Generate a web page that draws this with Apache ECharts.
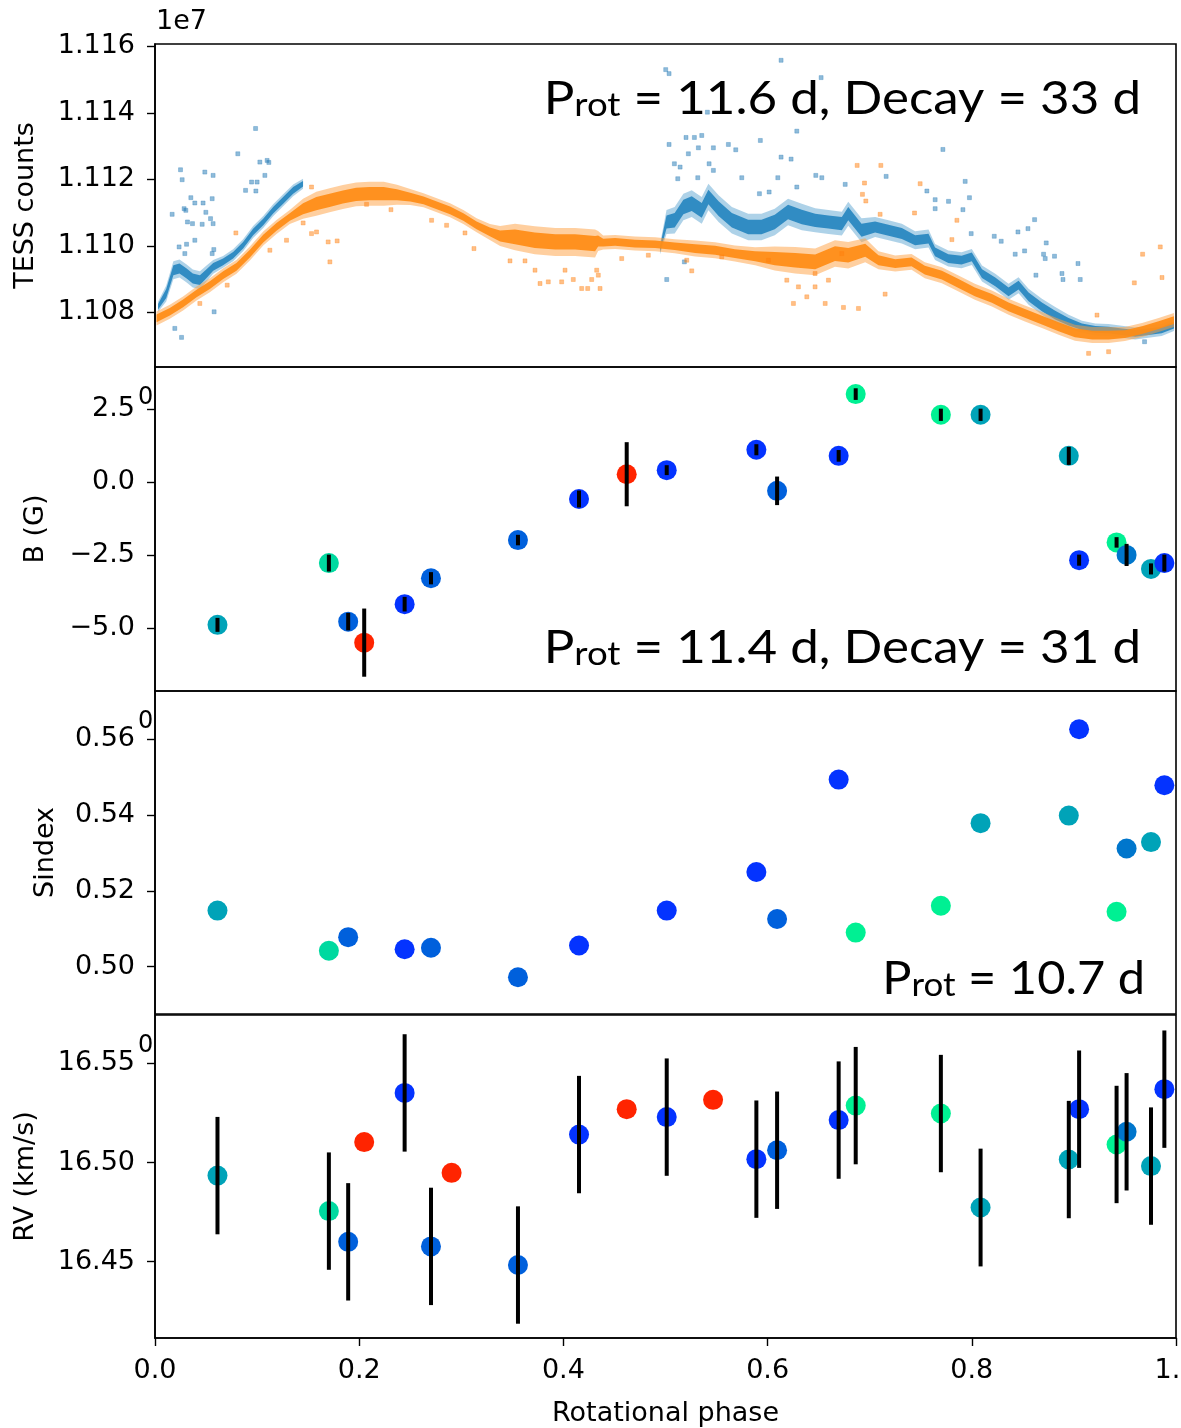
<!DOCTYPE html>
<html><head><meta charset="utf-8">
<script src="https://cdn.jsdelivr.net/npm/echarts@6/dist/echarts.min.js"></script>
<style>html,body{margin:0;padding:0;background:#fff}#c{width:1181px;height:1428px}</style>
</head><body><div id="c"></div><script>
// ---------------- data ----------------
const phaseTicks = [0.0, 0.2, 0.4, 0.6, 0.8, 1.0];
const tessTicks = [1.108, 1.110, 1.112, 1.114, 1.116];
const bTicks = [-5.0, -2.5, 0.0, 2.5];
const sTicks = [0.50, 0.52, 0.54, 0.56];
const rvTicks = [16.45, 16.50, 16.55];

// spectropolarimetric observations (phase, colour class)
const obsPhase = [0.0612, 0.1703, 0.1892, 0.2049, 0.2445, 0.2703, 0.2905, 0.3555, 0.4153, 0.4620, 0.5012, 0.5466,
                  0.5890, 0.6093, 0.6696, 0.6863, 0.7697, 0.8086, 0.8950, 0.9051, 0.9418, 0.9516, 0.9755, 0.9886];
const obsClass = ['teal','mint','mid','red','blue','mid','red','mid','blue','red','blue','red',
                  'blue','mid','blue','green','green','teal','teal','blue','green','mid2','teal','blue'];
const bField = [-4.90, -2.78, -4.79, -5.51, -4.19, -3.30, null, -1.99, -0.58, 0.27, 0.41, null,
                1.11, -0.30, 0.90, 3.02, 2.31, 2.31, 0.90, -2.68, -2.07, -2.50, -2.98, -2.78];
const bErr = [0.24, 0.29, 0.30, 1.17, 0.25, 0.21, null, 0.18, 0.29, 1.10, 0.17, null,
              0.19, 0.49, 0.20, 0.20, 0.21, 0.21, 0.31, 0.19, 0.18, 0.38, 0.19, 0.29];
const sIndex = [0.5148, 0.5042, 0.5078, null, 0.5046, 0.5050, null, 0.4972, 0.5056, null, 0.5148, null,
                0.5250, 0.5126, 0.5494, 0.5090, 0.5161, 0.5379, 0.5399, 0.5627, 0.5145, 0.5312, 0.5329, 0.5479];
const rvVal = [16.4934, 16.4755, 16.4600, 16.5103, 16.5351, 16.4577, 16.4948, 16.4483, 16.5141, 16.5269, 16.5229, 16.5316,
               16.5017, 16.5062, 16.5214, 16.5287, 16.5247, 16.4773, 16.5015, 16.5269, 16.5091, 16.5155, 16.4982, 16.5370];
const rvErr = [0.0296, 0.0296, 0.0296, null, 0.0296, 0.0296, null, 0.0296, 0.0296, null, 0.0296, null,
               0.0296, 0.0296, 0.0296, 0.0296, 0.0296, 0.0297, 0.0296, 0.0296, 0.0296, 0.0296, 0.0296, 0.0296];

// TESS light curve (units of 1e7 counts): dense band centre and half spread
const orangePhase = [0.0015,0.0145,0.0275,0.0407,0.0537,0.0668,0.0798,0.0929,0.1060,0.1190,0.1320,0.1450,0.1580,0.1710,
  0.1840,0.1970,0.2100,0.2240,0.2370,0.2500,0.2630,0.2760,0.2890,0.3020,0.3150,0.3280,0.3380,0.3526,0.3720,0.3920,0.4115,
  0.4310,0.4340,0.4390,0.4506,0.4700,0.4898,0.5090,0.5290,0.5486,0.5680,0.5878,0.6070,0.6270,0.6466,0.6660,0.6790,0.6956,
  0.7086,0.7250,0.7410,0.7540,0.7707,0.7870,0.8030,0.8197,0.8360,0.8520,0.8687,0.8850,0.9010,0.9180,0.9340,0.9500,0.9667,
  0.9830,0.9980];
const orangeCount = [1.10782,1.10802,1.10827,1.10857,1.10882,1.10912,1.10937,1.10977,1.11022,1.11057,1.11087,1.11112,1.11127,1.11137,
  1.11147,1.11155,1.11157,1.11157,1.11154,1.11147,1.11137,1.11122,1.11107,1.11087,1.11062,1.11042,1.11030,1.11027,1.11017,1.11012,1.11012,
  1.11007,1.11015,1.11010,1.11012,1.11007,1.11005,1.10999,1.10992,1.10987,1.10977,1.10969,1.10962,1.10957,1.10952,1.10977,1.10972,1.10987,
  1.10957,1.10947,1.10952,1.10927,1.10912,1.10887,1.10862,1.10842,1.10817,1.10797,1.10777,1.10757,1.10739,1.10732,1.10732,1.10735,1.10747,
  1.10762,1.10777];
const orangeSpread = [0.00021,0.00021,0.00021,0.00021,0.00021,0.00021,0.00021,0.00021,0.00021,0.00021,0.00021,0.00030,0.00036,0.00036,
  0.00036,0.00036,0.00036,0.00036,0.00030,0.00024,0.00021,0.00021,0.00021,0.00021,0.00021,0.00024,0.00030,0.00040,0.00042,0.00042,0.00042,
  0.00042,0.00030,0.00021,0.00021,0.00021,0.00021,0.00021,0.00024,0.00024,0.00024,0.00027,0.00036,0.00040,0.00040,0.00040,0.00040,0.00036,
  0.00027,0.00024,0.00024,0.00024,0.00024,0.00024,0.00024,0.00024,0.00024,0.00024,0.00024,0.00024,0.00024,0.00024,0.00024,0.00021,0.00021,
  0.00021,0.00021];

const blue1Phase = [0.0030,0.0110,0.0180,0.0240,0.0310,0.0370,0.0440,0.0505,0.0570,0.0667,0.0765,0.0863,0.0961,0.1060,0.1157,0.1255,0.1353,0.1450];
const blue1Count = [1.10817,1.10857,1.10927,1.10932,1.10917,1.10902,1.10897,1.10917,1.10937,1.10952,1.10972,1.11002,1.11042,1.11072,1.11107,1.11137,1.11167,1.11187];
const blue1Spread = [0.00015,0.00024,0.00027,0.00027,0.00027,0.00027,0.00027,0.00024,0.00021,0.00018,0.00018,0.00018,0.00018,0.00018,0.00018,0.00018,0.00018,0.00015];

const blue2Phase = [0.4946,0.5010,0.5090,0.5175,0.5257,0.5355,0.5420,0.5520,0.5650,0.5810,0.5940,0.6070,0.6200,0.6335,0.6466,0.6596,0.6727,
  0.6790,0.6920,0.7053,0.7184,0.7315,0.7445,0.7576,0.7640,0.7770,0.7900,0.8000,0.8100,0.8230,0.8360,0.8458,0.8556,0.8687,0.8817,0.8948,
  0.9079,0.9210,0.9340,0.9470,0.9600,0.9730,0.9860,0.9980];
const blue2Count = [1.10990,1.11072,1.11077,1.11117,1.11127,1.11107,1.11147,1.11112,1.11077,1.11057,1.11057,1.11072,1.11102,1.11087,1.11077,1.11072,1.11067,
  1.11097,1.11047,1.11057,1.11047,1.11037,1.11017,1.11022,1.10982,1.10962,1.10957,1.10967,1.10917,1.10892,1.10862,1.10882,1.10847,1.10817,1.10792,1.10772,
  1.10757,1.10749,1.10747,1.10742,1.10737,1.10742,1.10747,1.10762];
const blue2Spread = [0.00015,0.00036,0.00040,0.00040,0.00040,0.00040,0.00040,0.00040,0.00040,0.00040,0.00040,0.00040,0.00040,0.00040,0.00036,0.00036,0.00036,
  0.00036,0.00036,0.00030,0.00030,0.00030,0.00027,0.00027,0.00024,0.00024,0.00024,0.00024,0.00024,0.00024,0.00024,0.00024,0.00024,0.00024,0.00024,0.00021,
  0.00018,0.00018,0.00018,0.00018,0.00018,0.00018,0.00018,0.00018];

// sparse TESS points away from the dense bands
const blueOutPhase = [0.0985,0.0811,0.1027,0.1098,0.1115,0.1076,0.0250,0.0266,0.0488,0.0569,0.0351,0.0390,0.0471,0.0560,0.0285,0.0302,0.0168,
  0.0498,0.0318,0.0367,0.0462,0.0544,0.0569,0.0390,0.0309,0.0236,0.0292,0.0576,0.0560,0.0946,0.1000,0.0887,0.0988,0.0579,0.0194,0.0260,
  0.6132,0.5002,0.5035,0.6524,0.5410,0.6286,0.5201,0.5283,0.5355,0.5035,0.5322,0.5469,0.5616,0.5688,0.5929,0.5224,0.6132,0.6230,0.5087,
  0.5143,0.5427,0.5469,0.5120,0.5316,0.5747,0.6100,0.6472,0.6531,0.6286,0.5920,0.6015,0.5012,0.5185,0.7717,0.7161,0.6760,0.7935,0.7560,
  0.7977,0.7641,0.7772,0.7641,0.7913,0.8615,0.8452,0.8550,0.7994,0.8220,0.8288,0.8729,0.8517,0.8425,0.8703,0.8719,0.8810,0.9040,0.8628,
  0.8883,0.9062,0.8893,0.9692];
const blueOutCount = [1.11353,1.11277,1.11252,1.11257,1.11251,1.11212,1.11229,1.11199,1.11222,1.11212,1.11145,1.11129,1.11129,1.11142,1.11112,1.11107,1.11095,
  1.11101,1.11072,1.11067,1.11065,1.11082,1.11067,1.11017,1.11005,1.10997,1.10977,1.10989,1.10977,1.11192,1.11192,1.11167,1.11165,1.10802,1.10752,1.10725,
  1.11558,1.11530,1.11518,1.11506,1.11402,1.11345,1.11326,1.11326,1.11332,1.11305,1.11295,1.11295,1.11305,1.11289,1.11317,1.11277,1.11267,1.11261,1.11247,
  1.11237,1.11247,1.11227,1.11202,1.11205,1.11205,1.11205,1.11212,1.11205,1.11177,1.11157,1.11162,1.10899,1.10952,1.11290,1.11209,1.11185,1.11194,1.11165,
  1.11145,1.11139,1.11134,1.11112,1.11109,1.11079,1.11042,1.11052,1.11037,1.11029,1.11014,1.11009,1.10985,1.10975,1.10975,1.10962,1.10969,1.10947,1.10912,
  1.10917,1.10899,1.10899,1.10712];
const orangeOutPhase = [0.1533,0.0792,0.1713,0.1784,0.1696,0.1533,0.1582,0.1451,0.1288,0.0707,0.3124,0.3036,0.2856,0.2709,0.2311,0.2072,0.1125,0.0439,
  0.3771,0.3852,0.3983,0.4179,0.4238,0.4359,0.4097,0.4277,0.4342,0.3477,0.3624,0.3722,0.4016,0.4326,0.4571,0.4832,0.5208,0.5257,0.5551,0.6008,
  0.6253,0.6384,0.6564,0.6302,0.6465,0.6188,0.6596,0.6465,0.6877,0.7109,0.6949,0.6929,0.6962,0.7494,0.7439,0.7102,0.7805,0.7854,0.6727,0.7151,
  0.6743,0.6890,0.9846,0.9673,0.9863,0.9592,0.9340,0.9144,0.9226];
const orangeOutCount = [1.11177,1.11039,1.10952,1.11015,1.11012,1.11037,1.11042,1.11069,1.11017,1.10882,1.10992,1.11039,1.11062,1.11077,1.11109,1.11125,1.10987,1.10827,
  1.10887,1.10892,1.10892,1.10872,1.10872,1.10872,1.10899,1.10899,1.10912,1.10955,1.10955,1.10927,1.10927,1.10927,1.10962,1.10972,1.10957,1.10925,1.10967,1.10957,
  1.10827,1.10847,1.10827,1.10877,1.10877,1.10897,1.10897,1.10917,1.11242,1.11242,1.11189,1.11155,1.11135,1.11187,1.11099,1.11095,1.11019,1.11077,1.10977,1.10855,
  1.10815,1.10812,1.10997,1.10975,1.10905,1.10889,1.10682,1.10677,1.10792];

// ---------------- styling ----------------
const palette = {red:'#ff2400', blue:'#0433ff', mid:'#0060dc', mid2:'#0076cc', teal:'#00a3b8', mint:'#00d9a0', green:'#00f093'};
const FONT = 'DejaVu Sans';
const C_BLUE = '#1f77b4', C_ORANGE = '#ff7f0e';

const panels = [
  {top: 44, height: 323, min: 1.10636, max: 1.11607, ticks: tessTicks, fmt: v => v.toFixed(3), name: 'TESS counts', gap: 116},
  {top: 367, height: 324, min: -7.17, max: 3.95, ticks: bTicks, fmt: v => v.toFixed(1).replace('-', '\u2212'), name: 'B (G)', gap: 106},
  {top: 691, height: 323, min: 0.4875, max: 0.5728, ticks: sTicks, fmt: v => v.toFixed(2), name: 'Sindex', gap: 96},
  {top: 1015, height: 323, min: 16.4115, max: 16.5744, ticks: rvTicks, fmt: v => v.toFixed(2), name: 'RV (km/s)', gap: 116}
];

const grids = panels.map(p => ({left: 155, right: 5, top: p.top, height: p.height, show: true,
  borderColor: '#000', borderWidth: 1.6, backgroundColor: 'transparent', containLabel: false, outerBoundsMode: 'none'}));
const xAxes = panels.map((p, i) => {
  const last = i === panels.length - 1;
  return {type: 'value', gridIndex: i, min: 0, max: 1, show: true,
    axisLine: {show: last, lineStyle: {color: '#000', width: 1.6}},
    axisTick: {show: last, length: 8, lineStyle: {color: '#000', width: 1.4}, customValues: phaseTicks},
    axisLabel: {show: last, customValues: phaseTicks, formatter: v => v.toFixed(1), margin: 19,
      fontFamily: FONT, fontSize: 27, color: '#000', showMaxLabel: true, hideOverlap: false},
    splitLine: {show: false},
    name: last ? 'Rotational phase' : '', nameLocation: 'middle', nameGap: 62,
    nameTextStyle: {fontFamily: FONT, fontSize: 27, color: '#000'}};
});
const yAxes = panels.map((p, i) => ({type: 'value', gridIndex: i, min: p.min, max: p.max,
  axisLine: {show: true, lineStyle: {color: '#000', width: 1.6}},
  axisTick: {show: true, length: 8, lineStyle: {color: '#000', width: 1.4}, customValues: p.ticks},
  axisLabel: {customValues: p.ticks, formatter: p.fmt, margin: 20, fontFamily: FONT, fontSize: 27, color: '#000'},
  splitLine: {show: false},
  name: p.name, nameLocation: 'middle', nameRotate: 90, nameGap: p.gap,
  nameTextStyle: {fontFamily: FONT, fontSize: 27, color: '#000'}}));

function band(xs, cs, hs, frac, color, opacity, z) {
  return {type: 'custom', xAxisIndex: 0, yAxisIndex: 0, silent: true, z: z, clip: true,
    data: xs.map((x, i) => [x, cs[i], hs[i]]),
    renderItem: function (params, api) {
      if (params.dataIndex !== 0) return null;
      const up = [], lo = [];
      for (let i = 0; i < xs.length; i++) {
        up.push(api.coord([xs[i], cs[i] + hs[i] * frac]));
        lo.push(api.coord([xs[i], cs[i] - hs[i] * frac]));
      }
      return {type: 'polygon', shape: {points: up.concat(lo.reverse())}, style: {fill: color, opacity: opacity}};
    }};
}
function sparse(xs, ys, color, z) {
  return {type: 'scatter', xAxisIndex: 0, yAxisIndex: 0, symbol: 'rect', symbolSize: 4, z: z, silent: true,
    itemStyle: {color: color, opacity: 0.5, borderColor: color, borderWidth: 0.6},
    data: xs.map((x, i) => [x, ys[i]])};
}
function dots(idx, vals) {
  const d = [];
  obsPhase.forEach((x, i) => { if (vals[i] !== null) d.push({value: [x, vals[i]], itemStyle: {color: palette[obsClass[i]], opacity: 1}}); });
  return {type: 'scatter', xAxisIndex: idx, yAxisIndex: idx, symbol: 'circle', symbolSize: 20, z: 5,
    itemStyle: {opacity: 1}, data: d};
}
function bars(idx, vals, errs) {
  const d = [];
  obsPhase.forEach((x, i) => { if (vals[i] !== null && errs[i] !== null) d.push([x, vals[i], errs[i]]); });
  return {type: 'custom', xAxisIndex: idx, yAxisIndex: idx, z: 6, silent: true, data: d,
    renderItem: function (params, api) {
      const x = api.value(0), y = api.value(1), e = api.value(2);
      const a = api.coord([x, y - e]), b = api.coord([x, y + e]);
      return {type: 'line', shape: {x1: a[0], y1: a[1], x2: b[0], y2: b[1]}, style: {stroke: '#000', lineWidth: 4}};
    }};
}

const series = [
  sparse(blueOutPhase, blueOutCount, C_BLUE, 2),
  band(blue1Phase, blue1Count, blue1Spread, 1.0, '#4b9bcd', 0.45, 2),
  band(blue1Phase, blue1Count, blue1Spread, 0.55, '#2484bf', 0.9, 2),
  band(blue2Phase, blue2Count, blue2Spread, 1.0, '#4b9bcd', 0.45, 2),
  band(blue2Phase, blue2Count, blue2Spread, 0.55, '#2484bf', 0.9, 2),
  sparse(orangeOutPhase, orangeOutCount, C_ORANGE, 3),
  band(orangePhase, orangeCount, orangeSpread, 1.0, '#ffa040', 0.5, 3),
  band(orangePhase, orangeCount, orangeSpread, 0.55, '#ff8c14', 0.92, 3),
  dots(1, bField), bars(1, bField, bErr),
  dots(2, sIndex),
  dots(3, rvVal), bars(3, rvVal, rvErr)
];

const annFont = 'Lato';
function ann(text, x, y, sx) {
  return {type: 'text', x: x, y: y, scaleX: sx, z: 50, silent: true,
    style: {text: text, align: 'right', verticalAlign: 'bottom',
      rich: {m: {fontFamily: annFont, fontSize: 46, lineHeight: 46, fill: '#000'},
             s: {fontFamily: annFont, fontSize: 33, lineHeight: 8, verticalAlign: 'bottom', fill: '#000'}}}};
}
const graphic = [
  {type: 'text', x: 156, y: 8, style: {text: '1e7', fontFamily: FONT, fontSize: 27, fill: '#000'}},
  {type: 'text', x: 138, y: 386, style: {text: '0', fontFamily: FONT, fontSize: 24, fill: '#000'}},
  {type: 'text', x: 138, y: 710, style: {text: '0', fontFamily: FONT, fontSize: 24, fill: '#000'}},
  {type: 'text', x: 138, y: 1034, style: {text: '0', fontFamily: FONT, fontSize: 24, fill: '#000'}},
  ann('{m|P}{s|rot}{m| = 11.6 d, Decay = 33 d}', 1141, 122, 1.11),
  ann('{m|P}{s|rot}{m| = 11.4 d, Decay = 31 d}', 1141, 671, 1.11),
  ann('{m|P}{s|rot}{m| = 10.7 d}', 1145, 1002, 1.06)
];

const chart = echarts.init(document.getElementById('c'), null, {renderer: 'canvas'});
chart.setOption({animation: false, backgroundColor: '#fff', grid: grids, xAxis: xAxes, yAxis: yAxes, series: series, graphic: graphic});
</script></body></html>
